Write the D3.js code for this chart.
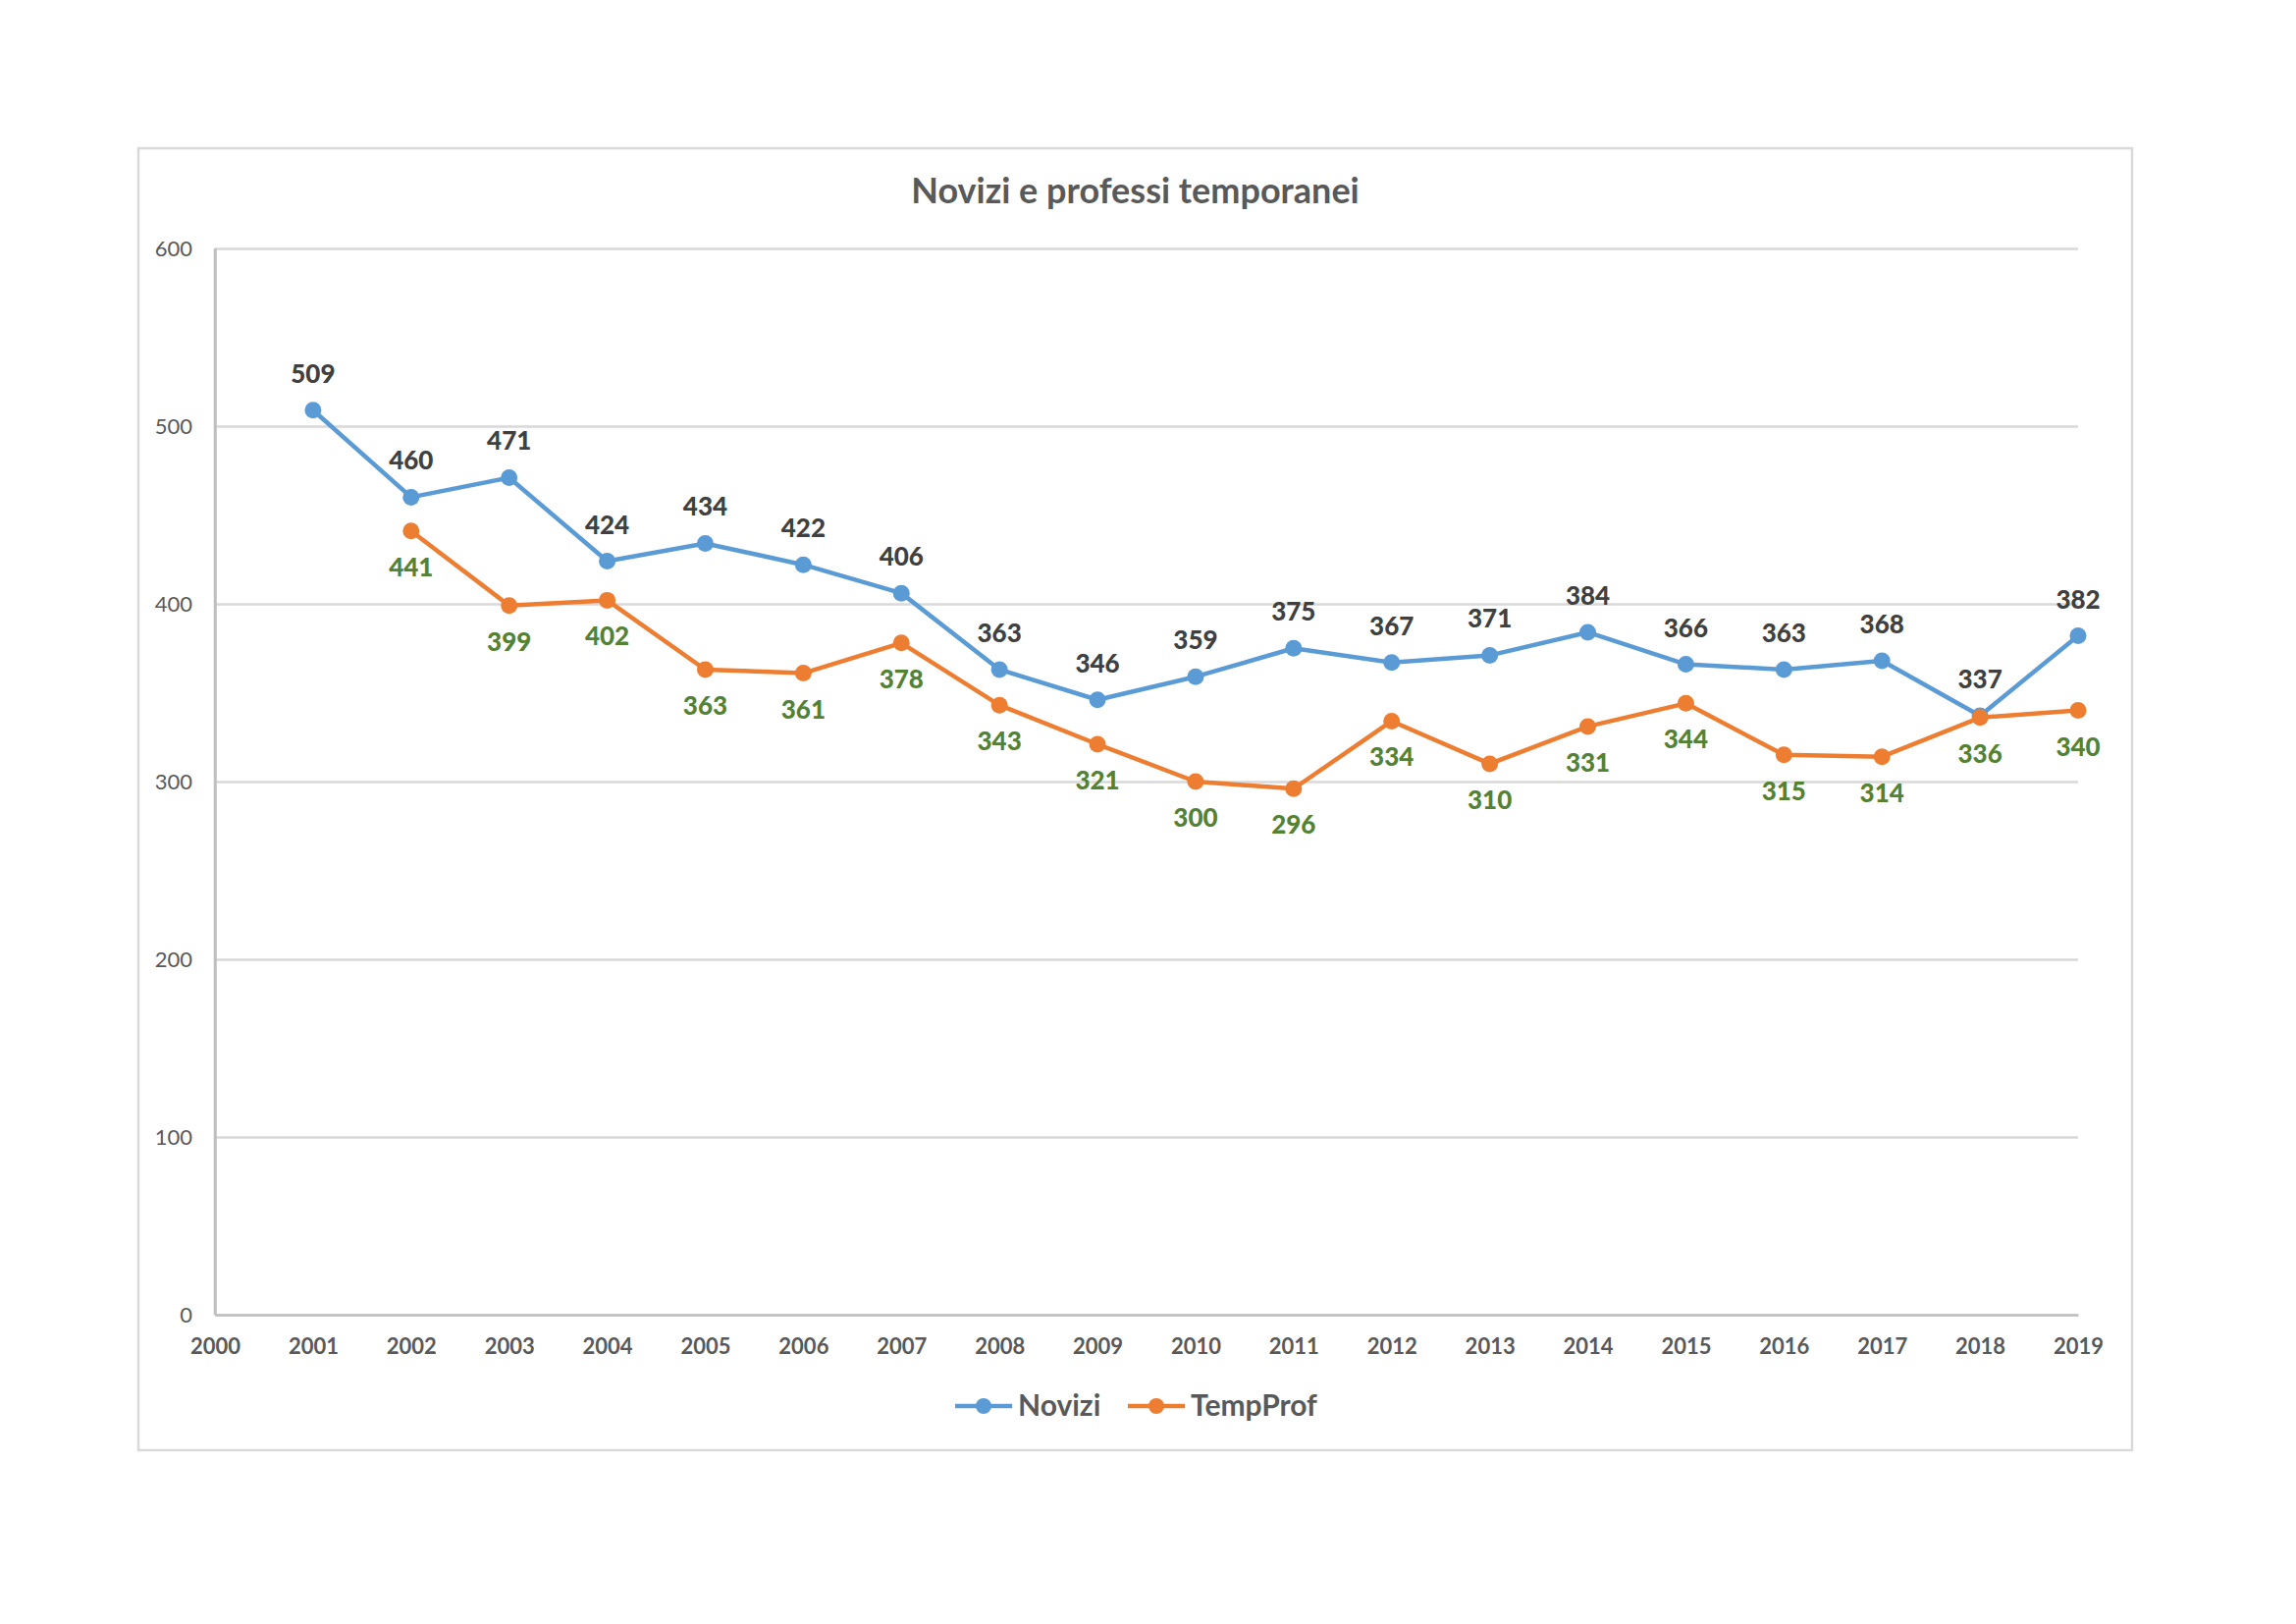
<!DOCTYPE html>
<html>
<head>
<meta charset="utf-8">
<script src="https://cdn.jsdelivr.net/npm/d3@7"></script>
<style>
    body { margin: 0; background: #fff; }
    svg text { font-family: Lato, "Open Sans", sans-serif; }
</style>
</head>
<body>
<div id="chart"></div>
<script>
const width = 2339;
const height = 1654;

// data
const years = [2001, 2002, 2003, 2004, 2005, 2006, 2007, 2008, 2009, 2010,
    2011, 2012, 2013, 2014, 2015, 2016, 2017, 2018, 2019];
const novizi = [509, 460, 471, 424, 434, 422, 406, 363, 346, 359,
    375, 367, 371, 384, 366, 363, 368, 337, 382];
const tempProfYears = [2002, 2003, 2004, 2005, 2006, 2007, 2008, 2009, 2010,
    2011, 2012, 2013, 2014, 2015, 2016, 2017, 2018, 2019];
const tempProf = [441, 399, 402, 363, 361, 378, 343, 321, 300,
    296, 334, 310, 331, 344, 315, 314, 336, 340];
const xTicks = d3.range(2000, 2020);
const yTicks = [0, 100, 200, 300, 400, 500, 600];

const plot = {left: 219, right: 2117, top: 253, bottom: 1339};
const box = {x: 141, y: 151, w: 2172 - 141, h: 1477 - 151};

const blue = "#5b9bd5";
const orange = "#ed7d31";
const grey = "#595959";

const svg = d3.select("#chart").append("svg")
    .attr("width", width)
    .attr("height", height);

svg.append("rect")
    .attr("x", box.x).attr("y", box.y)
    .attr("width", box.w).attr("height", box.h)
    .attr("fill", "#fff")
    .attr("stroke", "#d9d9d9")
    .attr("stroke-width", 2.5);

const x = d3.scaleLinear().domain([2000, 2019]).range([plot.left, plot.right]);
const y = d3.scaleLinear().domain([0, 600]).range([plot.bottom, plot.top]);

// gridlines
svg.append("g")
    .attr("transform", `translate(${plot.left},0)`)
    .call(d3.axisLeft(y).tickValues(yTicks).tickSize(-(plot.right - plot.left)).tickFormat(""))
    .call(g => g.select(".domain").remove())
    .call(g => g.selectAll("line").attr("stroke", "#d9d9d9").attr("stroke-width", 2.5));

// y labels
svg.append("g")
    .attr("transform", `translate(${plot.left},0)`)
    .call(d3.axisLeft(y).tickValues(yTicks).tickSize(0).tickPadding(23))
    .call(g => g.select(".domain").attr("stroke", "#bfbfbf").attr("stroke-width", 2.5))
    .call(g => g.selectAll("text")
        .attr("fill", grey)
        .style("font-size", "22px")
        .style("font-family", "Lato, sans-serif"));

// x axis
svg.append("g")
    .attr("transform", `translate(0,${plot.bottom})`)
    .call(d3.axisBottom(x).tickValues(xTicks).tickSize(0).tickPadding(24).tickFormat(d3.format("d")))
    .call(g => g.select(".domain").attr("stroke", "#bfbfbf").attr("stroke-width", 2.5))
    .call(g => g.selectAll("text")
        .attr("fill", grey)
        .style("font-size", "22px")
        .style("font-weight", "bold")
        .style("font-family", "Lato, sans-serif"));

// y axis line drawn over gridline ends
svg.append("line")
    .attr("x1", plot.left).attr("x2", plot.left)
    .attr("y1", plot.top).attr("y2", plot.bottom)
    .attr("stroke", "#bfbfbf").attr("stroke-width", 2.5);

const line = d3.line().x(d => x(d[0])).y(d => y(d[1]));

function drawSeries(xs, vals, color) {
    const pts = xs.map((yr, i) => [yr, vals[i]]);
    const g = svg.append("g");
    g.append("path")
        .datum(pts)
        .attr("d", line)
        .attr("fill", "none")
        .attr("stroke", color)
        .attr("stroke-width", 4.5)
        .attr("stroke-linejoin", "round");
    g.selectAll("circle")
        .data(pts)
        .enter().append("circle")
        .attr("cx", d => x(d[0]))
        .attr("cy", d => y(d[1]))
        .attr("r", 8.5)
        .attr("fill", color);
    return pts;
}

const nPts = drawSeries(years, novizi, blue);
const tPts = drawSeries(tempProfYears, tempProf, orange);

// data labels
svg.append("g").selectAll("text")
    .data(nPts)
    .enter().append("text")
    .attr("x", d => x(d[0]))
    .attr("y", d => y(d[1]) - 28)
    .attr("text-anchor", "middle")
    .attr("fill", "#404040")
    .style("font-size", "26px")
    .style("font-weight", "900")
    .text(d => d[1]);

svg.append("g").selectAll("text")
    .data(tPts)
    .enter().append("text")
    .attr("x", d => x(d[0]))
    .attr("y", d => y(d[1]) + 46)
    .attr("text-anchor", "middle")
    .attr("fill", "#548235")
    .style("font-size", "26px")
    .style("font-weight", "900")
    .text(d => d[1]);

// title
svg.append("text")
    .attr("x", box.x + box.w / 2)
    .attr("y", 207)
    .attr("text-anchor", "middle")
    .attr("fill", grey)
    .style("font-size", "36px")
    .style("font-weight", "bold")
    .text("Novizi e professi temporanei");

// legend
const legend = [
    {name: "Novizi", color: blue, x: 973},
    {name: "TempProf", color: orange, x: 1149}
];
const lg = svg.append("g").selectAll("g")
    .data(legend)
    .enter().append("g")
    .attr("transform", d => `translate(${d.x},1432)`);
lg.append("line")
    .attr("x1", 0).attr("x2", 58)
    .attr("stroke", d => d.color)
    .attr("stroke-width", 4.5);
lg.append("circle")
    .attr("cx", 29).attr("r", 8)
    .attr("fill", d => d.color);
lg.append("text")
    .attr("x", 64)
    .attr("y", 10)
    .attr("fill", grey)
    .style("font-size", "30px")
    .style("font-weight", "bold")
    .text(d => d.name);
</script>
</body>
</html>
